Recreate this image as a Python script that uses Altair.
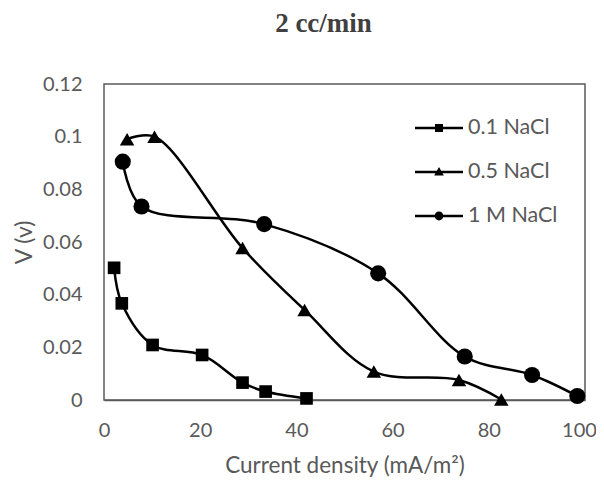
import altair as alt
import pandas as pd

# ---- data ----
series_names = ["0.1 NaCl", "0.5 NaCl", "1 M NaCl"]

x_01 = [2.1, 3.7, 10.1, 20.4, 28.8, 33.6, 42.1]
y_01 = [0.0502, 0.0367, 0.0209, 0.0171, 0.0066, 0.0032, 0.0006]

x_05 = [4.8, 10.5, 28.8, 41.7, 56.1, 73.8, 82.6]
y_05 = [0.0990, 0.1000, 0.0577, 0.0342, 0.0108, 0.0076, 0.0002]

x_1m = [3.9, 7.8, 33.3, 57.0, 75.0, 89.0, 98.4]
y_1m = [0.0905, 0.0735, 0.0668, 0.0481, 0.0165, 0.0095, 0.0015]

x_ticks = [0, 20, 40, 60, 80, 100]
y_ticks = [0, 0.02, 0.04, 0.06, 0.08, 0.1, 0.12]

rows = []
for name, xs, ys in zip(series_names, [x_01, x_05, x_1m], [y_01, y_05, y_1m]):
    for xv, yv in zip(xs, ys):
        rows.append({"series": name, "x": xv, "y": yv})
df = pd.DataFrame(rows)

FONT = "Lato"
GRAY = "#595959"

x_enc = alt.X("x:Q", scale=alt.Scale(domain=[0, 100], nice=False),
              axis=alt.Axis(values=x_ticks, title="Current density (mA/m²)",
                            grid=False, ticks=False, labelPadding=20,
                            labelFlush=False,
                            labelOffset={"condition": {"test": "datum.value == 100",
                                                       "value": -6},
                                         "value": 0},
                            titlePadding=14, titleFontSize=22.5,
                            domainColor=GRAY, domainWidth=1.5))
y_enc = alt.Y("y:Q", scale=alt.Scale(domain=[0, 0.12], nice=False),
              axis=alt.Axis(values=y_ticks, format=".2~f", title="V (v)",
                            grid=False, ticks=False, domain=False,
                            labelFlush=False,
                            labelPadding=22, titlePadding=6))

lines = alt.Chart(df).mark_line(interpolate="catmull-rom", color="black",
                                strokeWidth=2.5).encode(
    x=x_enc, y=y_enc, detail="series:N")

points = alt.Chart(df).mark_point(filled=True, color="black", opacity=1).encode(
    x=x_enc, y=y_enc,
    shape=alt.Shape("series:N", legend=None,
                    scale=alt.Scale(domain=series_names,
                                    range=["square", "triangle-up", "circle"])),
    size=alt.Size("series:N", legend=None,
                  scale=alt.Scale(domain=series_names, range=[160, 260, 170])),
)

bar = "M-1.2,-0.0625L1.2,-0.0625L1.2,0.0625L-1.2,0.0625Z"
legend_paths = [
    bar + " M-0.2,-0.2L0.2,-0.2L0.2,0.2L-0.2,0.2Z",
    bar + " M0,-0.25L0.24,0.17L-0.24,0.17Z",
    bar + " M-0.22,0A0.22,0.22 0 1,1 0.22,0A0.22,0.22 0 1,1 -0.22,0Z",
]

legend_layer = alt.Chart(df).transform_filter("false").mark_point(
    filled=True, color="black", opacity=1).encode(
    x=x_enc, y=y_enc,
    shape=alt.Shape("series:N",
                    scale=alt.Scale(domain=series_names, range=legend_paths),
                    legend=alt.Legend(title=None, orient="none",
                                      legendX=315, legendY=24,
                                      symbolSize=1600, symbolFillColor="black",
                                      symbolStrokeWidth=0, symbolOpacity=1,
                                      labelFont=FONT, labelFontSize=21.5,
                                      labelColor=GRAY, labelOffset=9,
                                      rowPadding=13, padding=0)),
)

chart = alt.layer(lines, points, legend_layer).resolve_scale(
    shape="independent", size="independent"
).properties(
    width=481, height=316,
    autosize=alt.AutoSizeParams(type="none"),
    padding={"left": 96, "top": 76, "right": 11, "bottom": 77},
    title=alt.TitleParams("2 cc/min", font="Liberation Serif", fontSize=27,
                          fontWeight="bold", color="#404040", dx=-21,
                          offset=36),
).configure_view(
    stroke=GRAY, strokeWidth=1.5
).configure_axis(
    labelFont=FONT, labelFontSize=20, labelColor=GRAY,
    titleFont=FONT, titleFontSize=23, titleColor=GRAY, titleFontWeight="normal"
)

chart.save("out.html", embed_options={"renderer": "svg", "actions": False})
